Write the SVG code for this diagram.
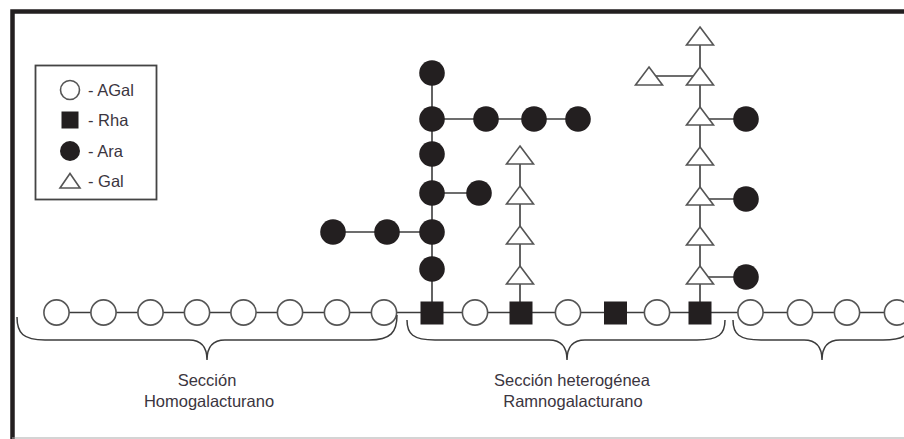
<svg xmlns="http://www.w3.org/2000/svg" width="904" height="439" viewBox="0 0 904 439">
<style>
.frame{fill:none;stroke:#231f20;stroke-width:4.5}
.ln{stroke:#3c3c3c;stroke-width:1.6;fill:none}
.br{stroke:#3c3c3c;stroke-width:1.5;fill:none}
.ag{fill:#fff;stroke:#555;stroke-width:1.6}
.rh{fill:#231f20}
.ar{fill:#231f20}
.ga{fill:#fff;stroke:#555;stroke-width:1.6}
.t{font-family:"Liberation Sans",Arial,sans-serif;font-size:16.5px;fill:#3b3540}
.tm{text-anchor:middle}
</style>
<defs>
<circle id="cAG" r="12.6" class="ag"/>
<rect id="sRH" x="-11.5" y="-11.5" width="23" height="23" class="rh"/>
<circle id="cAR" r="12.8" class="ar"/>
<polygon id="tGA" points="0,-9 13.5,9 -13.5,9" class="ga"/>
</defs>
<rect width="904" height="439" fill="#fff"/>
<g id="frame">
<path class="frame" d="M12.5,439 L12.5,11.5 L904,11.5"/>
<line x1="12" y1="438" x2="904" y2="438" stroke="#aaa" stroke-width="1.2"/>
</g>
<g id="legend">
<rect x="35.5" y="65.5" width="121" height="134" fill="#fff" stroke="#444" stroke-width="1.8"/>
<circle cx="70" cy="90" r="9.5" class="ag"/>
<text class="t" x="88" y="96">- AGal</text>
<rect x="61.5" y="111.5" width="17" height="17" class="rh"/>
<text class="t" x="88" y="126">- Rha</text>
<circle cx="70" cy="151" r="10" class="ar"/>
<text class="t" x="88" y="157">- Ara</text>
<polygon points="70,173.5 80,188 60,188" class="ga"/>
<text class="t" x="88" y="187">- Gal</text>
</g>
<g id="connectors">
<line class="ln" x1="56" y1="312.5" x2="904" y2="312.5"/>
<line class="ln" x1="432" y1="73" x2="432" y2="313"/>
<line class="ln" x1="432" y1="119" x2="578" y2="119"/>
<line class="ln" x1="432" y1="193" x2="479" y2="193"/>
<line class="ln" x1="333" y1="232" x2="432" y2="232"/>
<line class="ln" x1="520" y1="155" x2="520" y2="313"/>
<line class="ln" x1="700" y1="36" x2="700" y2="313"/>
<line class="ln" x1="649" y1="76" x2="700" y2="76"/>
<line class="ln" x1="700" y1="119" x2="746" y2="119"/>
<line class="ln" x1="700" y1="199" x2="746" y2="199"/>
<line class="ln" x1="700" y1="277" x2="746" y2="277"/>
</g>
<g id="main-chain">
<g id="hg1"><use href="#cAG" x="56.5" y="312.5"/></g>
<g id="hg2"><use href="#cAG" x="103.5" y="312.5"/></g>
<g id="hg3"><use href="#cAG" x="150.5" y="312.5"/></g>
<g id="hg4"><use href="#cAG" x="197" y="312.5"/></g>
<g id="hg5"><use href="#cAG" x="243.5" y="312.5"/></g>
<g id="hg6"><use href="#cAG" x="290" y="312.5"/></g>
<g id="hg7"><use href="#cAG" x="337" y="312.5"/></g>
<g id="hg8"><use href="#cAG" x="384" y="312.5"/></g>
<g id="rha1"><use href="#sRH" x="432" y="313"/></g>
<g id="rg1"><use href="#cAG" x="475" y="312.5"/></g>
<g id="rha2"><use href="#sRH" x="521" y="313"/></g>
<g id="rg2"><use href="#cAG" x="568" y="312.5"/></g>
<g id="rha3"><use href="#sRH" x="615.5" y="313"/></g>
<g id="rg3"><use href="#cAG" x="657" y="312.5"/></g>
<g id="rha4"><use href="#sRH" x="700" y="313"/></g>
<g id="hgb1"><use href="#cAG" x="750.5" y="312.5"/></g>
<g id="hgb2"><use href="#cAG" x="800" y="312.5"/></g>
<g id="hgb3"><use href="#cAG" x="847" y="312.5"/></g>
<g id="hgb4"><use href="#cAG" x="897" y="312.5"/></g>
</g>
<g id="ara-branch">
<g id="ara1"><use href="#cAR" x="432" y="73"/></g>
<g id="ara2"><use href="#cAR" x="432" y="119"/></g>
<g id="ara3"><use href="#cAR" x="432" y="154"/></g>
<g id="ara4"><use href="#cAR" x="432" y="193"/></g>
<g id="ara5"><use href="#cAR" x="432" y="232"/></g>
<g id="ara6"><use href="#cAR" x="432" y="269"/></g>
<g id="ara7"><use href="#cAR" x="486" y="119"/></g>
<g id="ara8"><use href="#cAR" x="534" y="119"/></g>
<g id="ara9"><use href="#cAR" x="578" y="119"/></g>
<g id="ara10"><use href="#cAR" x="479" y="193"/></g>
<g id="ara11"><use href="#cAR" x="387" y="232"/></g>
<g id="ara12"><use href="#cAR" x="333" y="232"/></g>
</g>
<g id="gal-branch-1">
<g id="gal1"><use href="#tGA" x="520" y="155"/></g>
<g id="gal2"><use href="#tGA" x="520" y="195"/></g>
<g id="gal3"><use href="#tGA" x="520" y="235"/></g>
<g id="gal4"><use href="#tGA" x="520" y="275"/></g>
</g>
<g id="gal-branch-2">
<g id="gal5"><use href="#tGA" x="700" y="36"/></g>
<g id="gal6"><use href="#tGA" x="700" y="76"/></g>
<g id="gal7"><use href="#tGA" x="649" y="76"/></g>
<g id="gal8"><use href="#tGA" x="700" y="116"/></g>
<g id="gal9"><use href="#tGA" x="700" y="156"/></g>
<g id="gal10"><use href="#tGA" x="700" y="196"/></g>
<g id="gal11"><use href="#tGA" x="700" y="236"/></g>
<g id="gal12"><use href="#tGA" x="700" y="275"/></g>
<g id="ara13"><use href="#cAR" x="746" y="119"/></g>
<g id="ara14"><use href="#cAR" x="746" y="199"/></g>
<g id="ara15"><use href="#cAR" x="746" y="277"/></g>
</g>
<g id="braces">
<path class="br" d="M17,317 C17,333 23,340 45,340 L189,340 C200,340 207,346 207,360 C207,346 214,340 225,340 L369,340 C391,340 397,332 397,315"/>
<path class="br" d="M407,320 C407,334 413,340 435,340 L549,340 C560,340 567,346 567,360 C567,346 574,340 585,340 L697,340 C719,340 725,334 725,320"/>
<path class="br" d="M733,320 C733,334 739,340 761,340 L804,340 C815,340 822,346 822,360 C822,346 829,340 840,340 L883,340 C905,340 911,334 911,320"/>
</g>
<g id="labels">
<text class="t tm" x="207" y="386">Sección</text>
<text class="t tm" x="209" y="407">Homogalacturano</text>
<text class="t tm" x="572" y="386">Sección heterogénea</text>
<text class="t tm" x="573" y="407">Ramnogalacturano</text>
</g>
</svg>
